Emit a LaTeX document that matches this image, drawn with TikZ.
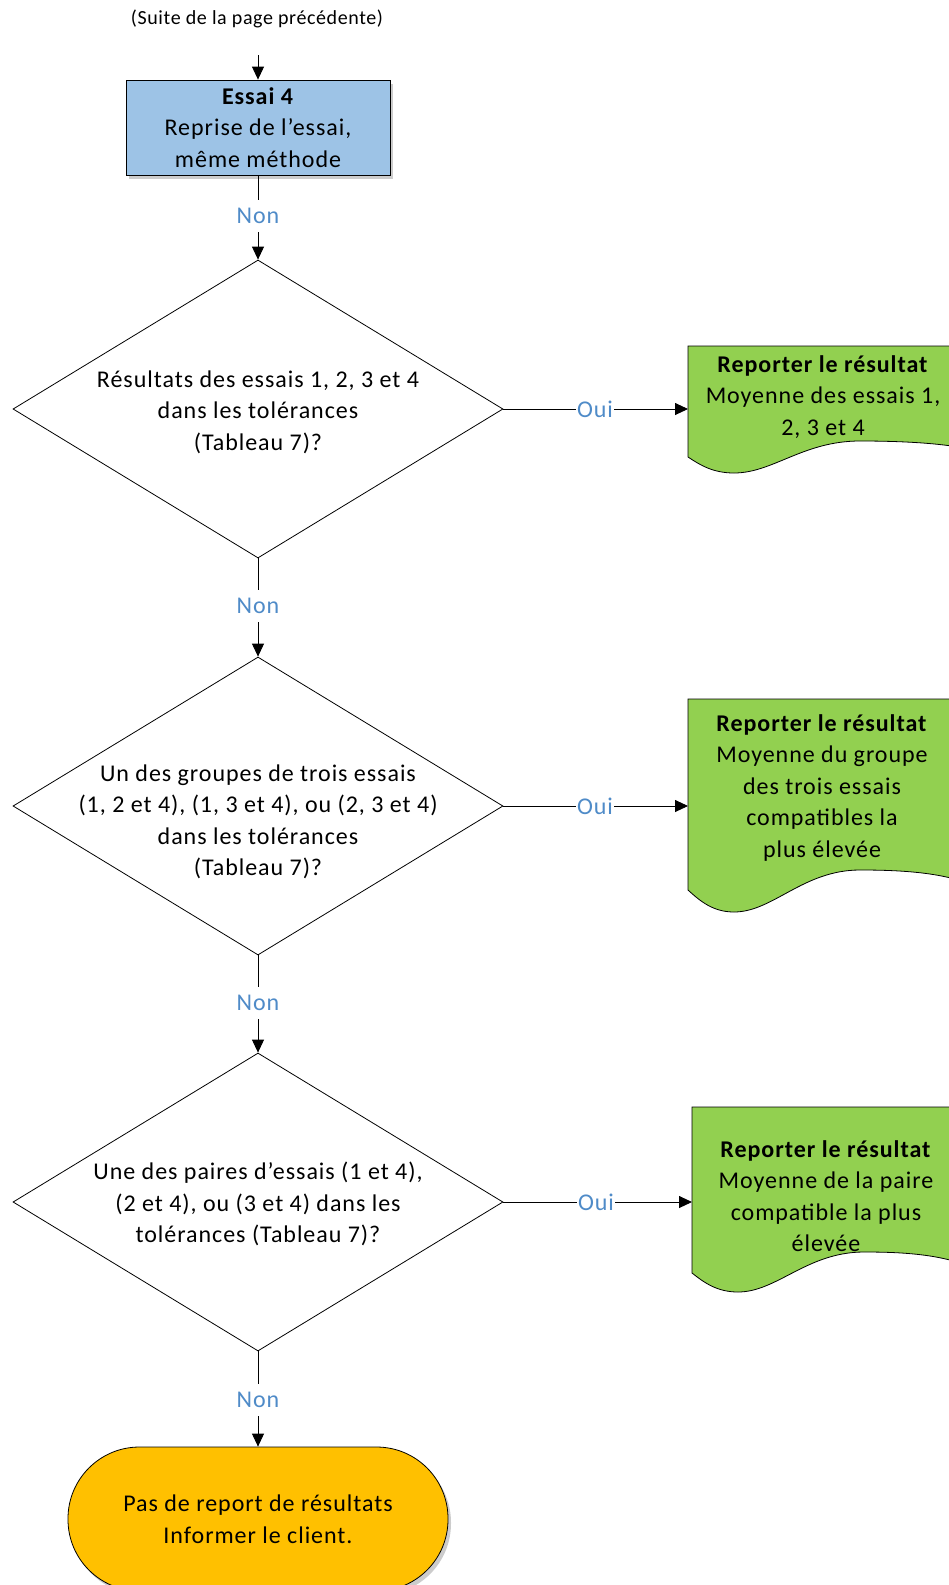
\documentclass[tikz,border=0pt]{standalone}
\usepackage{fontspec}
\setmainfont{Carlito}[LetterSpace=4]
\usetikzlibrary{shapes.geometric,arrows.meta,shadows,calc}
\definecolor{boxblue}{RGB}{157,195,230}
\definecolor{docgreen}{RGB}{146,208,80}
\definecolor{termorange}{RGB}{255,192,0}
\definecolor{lblblue}{RGB}{79,139,200}
\tikzset{
  line/.style={line width=0.9pt, draw=black},
  arr/.style={line, -{Triangle[width=12pt,length=13pt]}},
  lbl/.style={text=lblblue, font=\fontsize{24}{30}\selectfont, inner xsep=1pt, inner ysep=0pt, minimum height=32pt},
  body/.style={font=\fontsize{24}{31.5}\selectfont, align=center},
  shad/.style={drop shadow={shadow xshift=3pt, shadow yshift=-4pt, opacity=0.2, fill=black}},
  procbox/.style={rectangle, draw, line width=0.8pt, fill=boxblue, minimum width=264pt, minimum height=95pt, inner sep=0pt, shad, body},
  decision/.style={diamond, draw, line width=0.8pt, minimum width=490pt, minimum height=298pt, inner sep=0pt},
  terminal/.style={rectangle, rounded corners=71.5pt, draw, line width=0.8pt, fill=termorange, minimum width=380pt, minimum height=144pt, shad, body},
  docshape/.style={draw, line width=0.8pt, fill=docgreen},
}
% name, L, T, R, B, amplitude down, amplitude up
\newcommand{\wavedoc}[7]{%
  \draw[docshape] (#2,#3) -- (#4,#3) -- (#4,#5-10)
    .. controls (#4-30,#5-#7+1) and (#2+200,#5-#7) .. (#2+172,#5-#7)
    .. controls (#2+115,#5-#7) and (#2+85,#5+#6) .. (#2+46,#5+#6)
    .. controls (#2+25,#5+#6) and (#2+12,#5+#6*0.5) .. (#2,#5) -- cycle;
  \coordinate (#1) at (#2,#3);
}
\begin{document}
\begin{tikzpicture}[x=1pt,y=-1pt]
\useasboundingbox[fill=white] (0,0) rectangle (948,1585);

% title and top box
\node[font=\fontsize{20}{24}\selectfont\addfontfeatures{LetterSpace=3}, inner sep=0pt] (title) at (257,19) {(Suite de la page précédente)};
\coordinate (in0) at (258,55);
\node[procbox] (box) at (258,127.5) {\textbf{Essai 4}\\Reprise de l’essai,\\même méthode};

% decisions
\node[decision] (d1) at (258,409) {};
\node[body] (d1t) at (258,412) {Résultats des essais 1, 2, 3 et 4\\dans les tolérances\\(Tableau 7)?};
\node[decision] (d2) at (258,806) {};
\node[body] (d2t) at (258,822) {Un des groupes de trois essais\\(1, 2 et 4), (1, 3 et 4), ou (2, 3 et 4)\\dans les tolérances\\(Tableau 7)?};
\node[decision] (d3) at (258,1202) {};
\node[body] (d3t) at (258,1204) {Une des paires d’essais (1 et 4),\\(2 et 4), ou (3 et 4) dans les\\tolérances (Tableau 7)?};

% terminal
\node[terminal] (term) at (258,1519) {Pas de report de résultats\\Informer le client.};

% documents
\wavedoc{doc1}{688}{346}{958}{457}{16}{16}
\node[body] (doc1t) at (823,397) {\textbf{Reporter le résultat}\\Moyenne des essais 1,\\2, 3 et 4};
\wavedoc{doc2}{688}{699}{958}{890}{22}{20}
\node[body] (doc2t) at (822,788) {\textbf{Reporter le résultat}\\Moyenne du groupe\\des trois essais\\compatibles la\\plus élevée};
\wavedoc{doc3}{692}{1107}{960}{1273}{19}{21}
\node[body] (doc3t) at (826,1196) {\textbf{Reporter le résultat}\\Moyenne de la paire\\compatible la plus\\élevée};

% labels
\node[lbl] (non1) at (258,216) {Non};
\node[lbl] (non2) at (258,606) {Non};
\node[lbl] (non3) at (258,1003) {Non};
\node[lbl] (non4) at (258,1400) {Non};
\node[lbl] (oui1) at (595,409) {Oui};
\node[lbl] (oui2) at (595,806) {Oui};
\node[lbl] (oui3) at (596,1202) {Oui};

% connectors
\draw[arr] (in0) -- (box.north);
\draw[line] (box.south) -- (non1.north);
\draw[arr] (non1.south) -- (d1.north);
\draw[line] (d1.south) -- (non2.north);
\draw[arr] (non2.south) -- (d2.north);
\draw[line] (d2.south) -- (non3.north);
\draw[arr] (non3.south) -- (d3.north);
\draw[line] (d3.south) -- (non4.north);
\draw[arr] (non4.south) -- (term.north);

\draw[line] (d1.east) -- (oui1.west);
\draw[arr] (oui1.east) -- (oui1 -| doc1);
\draw[line] (d2.east) -- (oui2.west);
\draw[arr] (oui2.east) -- (oui2 -| doc2);
\draw[line] (d3.east) -- (oui3.west);
\draw[arr] (oui3.east) -- (oui3 -| doc3);
\end{tikzpicture}
\end{document}
